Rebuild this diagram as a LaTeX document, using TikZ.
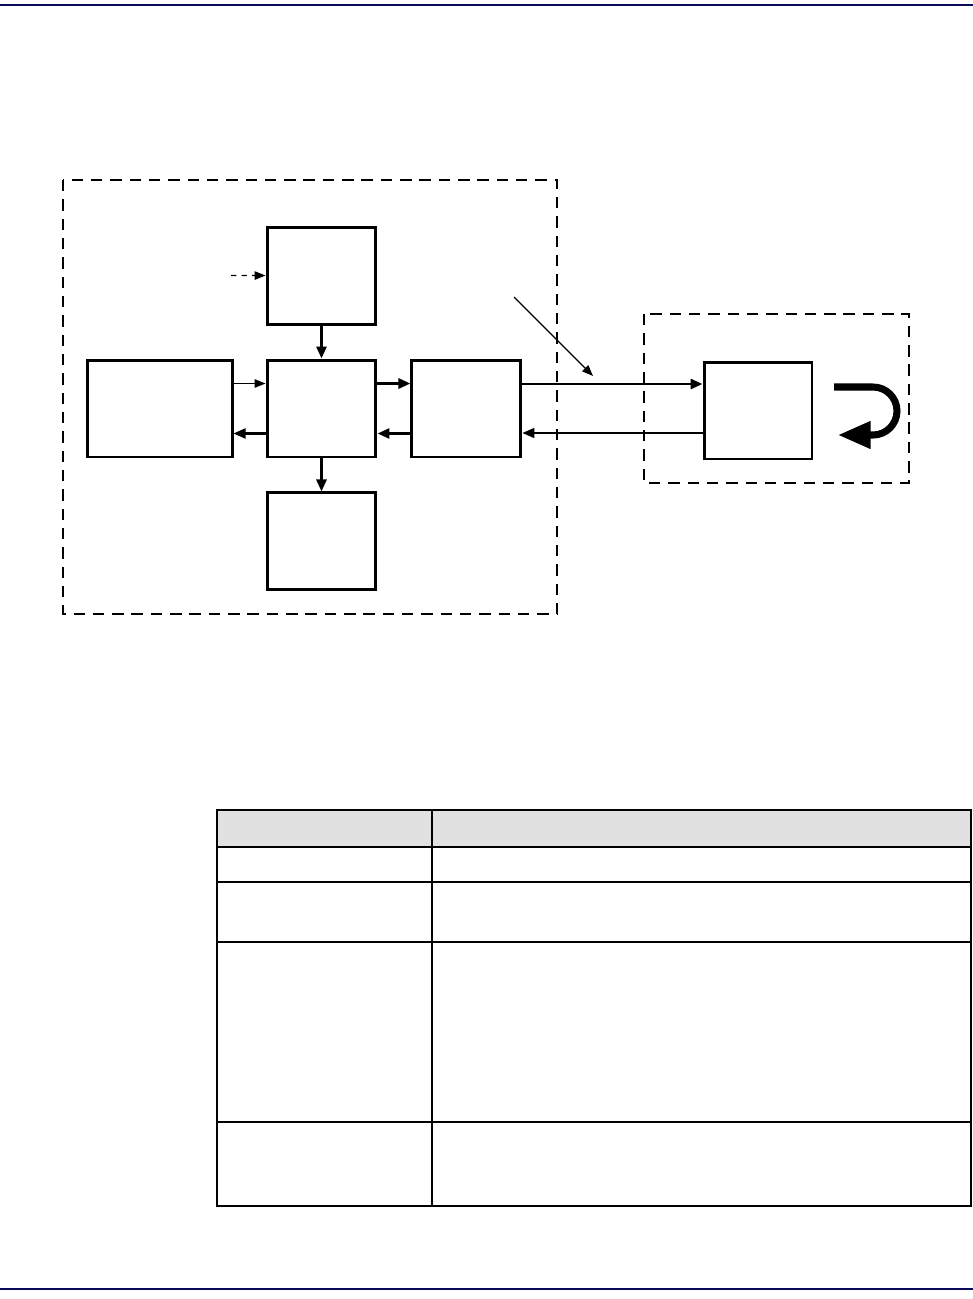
\documentclass[tikz,border=0pt]{standalone}
\usepackage{xcolor}
\usepackage{tikz}
\usetikzlibrary{positioning,arrows.meta,calc}
\definecolor{RuleNavy}{RGB}{10,10,90}
\definecolor{HeadGrey}{RGB}{225,225,225}

\begin{document}
\begin{tikzpicture}[x=0.02cm,y=-0.02cm,
  blk/.style={draw,line width=1.7pt,minimum width=2.18cm,minimum height=1.94cm,inner sep=0pt},
  zone/.style={line width=1.3pt,dash pattern=on 6.5pt off 4.5pt},
  link/.style={line width=1.6pt,-{Triangle[length=2.4mm,width=2mm]}},
  thinlink/.style={line width=0.7pt,-{Triangle[length=2.2mm,width=1.7mm]}},
  grid/.style={line width=1pt}]
\useasboundingbox (0,0) rectangle (973,1299);
\draw[RuleNavy,line width=0.8pt] (0,5) -- (973,5);
\draw[RuleNavy,line width=0.8pt] (0,1289) -- (973,1289);

\draw[zone] (63,180) rectangle (557,614);
\draw[zone] (644,314) rectangle (909,483);

\node[blk] (mid) at (321.5,408.5) {};
\node[blk,above=0.66cm of mid] (top) {};
\node[blk,below=0.66cm of mid] (bot) {};
\node[blk,right=0.66cm of mid] (rgt) {};
\node[blk,minimum width=2.9cm,left=0.64cm of mid] (lft) {};
\node[blk,minimum width=2.16cm] (far) at (758,410.5) {};

\draw[link] (top) -- (mid);
\draw[link] (mid) -- (bot);
\draw[thinlink] ([yshift=0.5cm]lft.east) -- ([yshift=0.5cm]mid.west);
\draw[link,line width=1.2pt] ([yshift=-0.5cm]mid.west) -- ([yshift=-0.5cm]lft.east);
\draw[link] ([yshift=0.5cm]mid.east) -- ([yshift=0.5cm]rgt.west);
\draw[link] ([yshift=-0.5cm]rgt.west) -- ([yshift=-0.5cm]mid.east);
\draw[link] ([yshift=0.49cm]rgt.east) -- ([yshift=0.49cm]rgt.east -| far.west);
\draw[link,line width=1pt] ([yshift=-0.49cm]rgt.east -| far.west) -- ([yshift=-0.49cm]rgt.east);

\coordinate (feed) at (231,275.5);
\draw[thinlink,dashed] (feed) -- (top.west);
\coordinate (tag) at (514,297);
\coordinate (tagend) at (593,376);
\draw[thinlink] (tag) -- (tagend);
\coordinate (turn) at (834,387);
\draw[line width=4pt,-{Triangle[length=6.5mm,width=5.2mm]}] (turn) -- (873,387)
  arc[start angle=90,end angle=-90,radius=0.48cm] -- ++(-35,0);

\fill[HeadGrey] (217,810) rectangle (971,847);
\draw[grid] (217,882) -- (971,882);
\draw[grid] (217,942) -- (971,942);
\draw[grid] (217,1122) -- (971,1122);
\draw[line width=1.6pt] (217,847) -- (971,847);
\draw[line width=1.5pt] (432,810) -- (432,1206);
\draw[line width=1.6pt] (217,810) rectangle (971,1206);
\end{tikzpicture}
\end{document}
